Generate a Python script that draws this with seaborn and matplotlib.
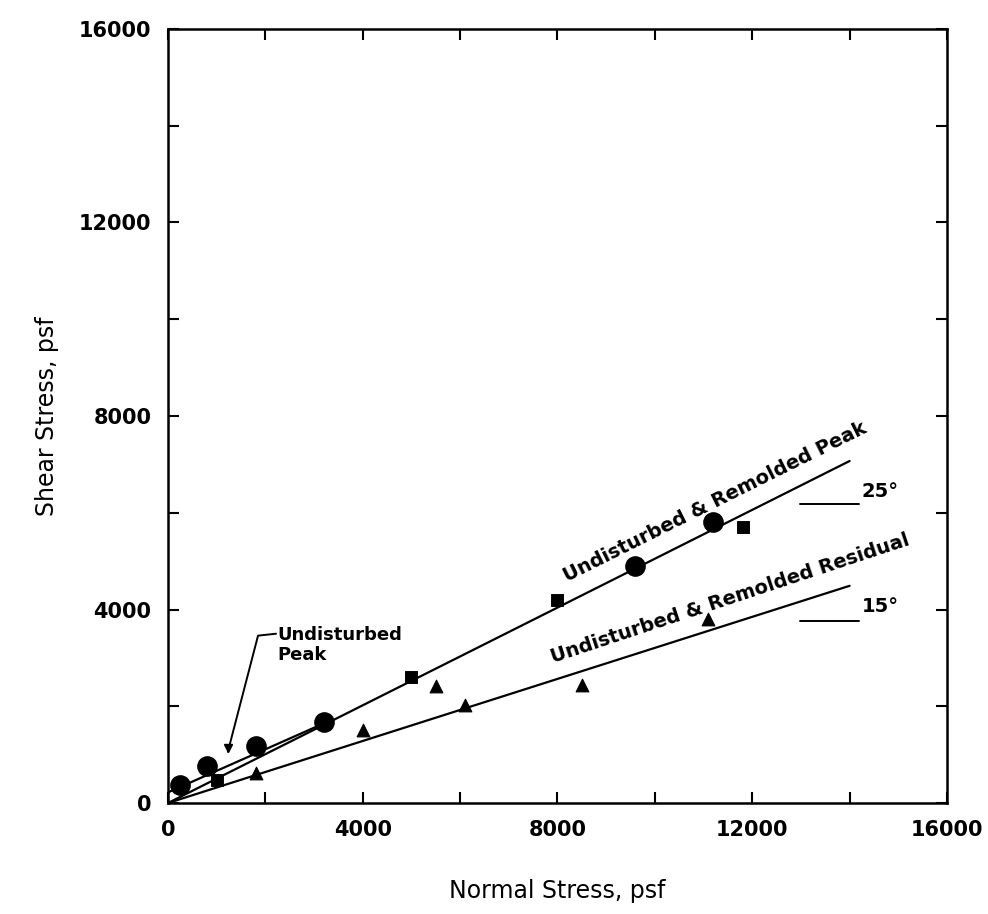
import numpy as np
import pandas as pd
import matplotlib
matplotlib.use("Agg")
import matplotlib.pyplot as plt
import seaborn as sns

sns.set_style("ticks")
plt.rcParams['font.family'] = ['DejaVu Sans']
plt.rcParams['text.color'] = 'black'
plt.rcParams['axes.labelcolor'] = 'black'
plt.rcParams['xtick.color'] = 'black'
plt.rcParams['ytick.color'] = 'black'

# --- data (psf) ---
circle_x = [250, 800, 1800, 3200, 9600, 11200]
circle_y = [380, 760, 1180, 1680, 4900, 5800]
square_x = [1000, 5000, 8000, 11800]
square_y = [480, 2600, 4200, 5700]
triangle_x = [1800, 4000, 5500, 6100, 8500, 11100]
triangle_y = [620, 1500, 2420, 2020, 2450, 3800]

peak_line_x = [0, 14000]
peak_line_y = [0, 7070]
resid_line_x = [0, 14000]
resid_line_y = [0, 4490]
undist_line_x = [0, 3300]
undist_line_y = [220, 1690]

ticks = [0, 2000, 4000, 6000, 8000, 10000, 12000, 14000, 16000]
tick_labels = ['0', '', '4000', '', '8000', '', '12000', '', '16000']

fig = plt.figure(figsize=(9.88, 9.14), dpi=100)
ax = fig.add_axes([0.170, 0.1214, 0.7885, 0.8469])

# fitted lines
for lx, ly in [(peak_line_x, peak_line_y), (resid_line_x, resid_line_y),
               (undist_line_x, undist_line_y)]:
    sns.lineplot(x=lx, y=ly, ax=ax, color='black', linewidth=1.6)

# data points
sns.scatterplot(x=circle_x, y=circle_y, ax=ax, marker='o', s=190,
                color='black', edgecolor='black', zorder=5)
sns.scatterplot(x=square_x, y=square_y, ax=ax, marker='s', s=70,
                color='black', edgecolor='black', zorder=5)
sns.scatterplot(x=triangle_x, y=triangle_y, ax=ax, marker='^', s=85,
                color='black', edgecolor='black', zorder=5)

# slope indicators
ax.plot([12980, 14200], [6180, 6180], color='black', linewidth=1.4)
ax.plot([12980, 14200], [3770, 3770], color='black', linewidth=1.4)
ax.text(14250, 6250, '25°', fontsize=14, fontweight='bold', ha='left', va='bottom')
ax.text(14250, 3860, '15°', fontsize=14, fontweight='bold', ha='left', va='bottom')

# line labels
ax.text(11230, 6230, 'Undisturbed & Remolded Peak', rotation=26.5,
        rotation_mode='anchor', ha='center', va='center',
        fontsize=14, fontweight='bold')
ax.text(11540, 4220, 'Undisturbed & Remolded Residual', rotation=18.3,
        rotation_mode='anchor', ha='center', va='center',
        fontsize=14, fontweight='bold')

# undisturbed peak callout
ax.text(2250, 3660, 'Undisturbed\nPeak', fontsize=13, fontweight='bold',
        ha='left', va='top', linespacing=1.15)
ax.plot([2220, 1850, 1230], [3500, 3460, 1060], color='black', linewidth=1.4)
ax.plot([1230], [1140], marker='v', color='black', markersize=6)

ax.set_xlim(0, 16000)
ax.set_ylim(0, 16000)
ax.set_xticks(ticks)
ax.set_yticks(ticks)
ax.set_xticklabels(tick_labels, fontsize=15, fontweight='bold')
ax.set_yticklabels(tick_labels, fontsize=15, fontweight='bold')
ax.tick_params(direction='in', length=8, width=1.5, top=True, right=True,
               pad=12)
for sp in ax.spines.values():
    sp.set_visible(True)
    sp.set_linewidth(1.8)
    sp.set_color('black')

ax.set_xlabel('Normal Stress, psf', fontsize=17, labelpad=28)
ax.set_ylabel('Shear Stress, psf', fontsize=17, labelpad=14)

fig.savefig('out.png', dpi=100, facecolor='white')
